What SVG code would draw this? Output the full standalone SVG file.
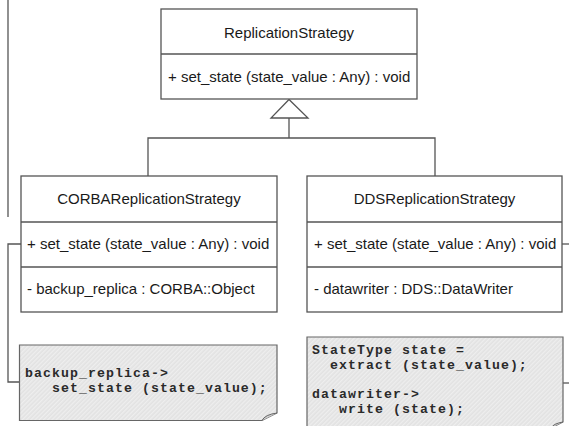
<svg xmlns="http://www.w3.org/2000/svg" width="569" height="426" viewBox="0 0 569 426">
<style>
.box{fill:#fff;stroke:#555;stroke-width:1.3}
.div{stroke:#555;stroke-width:1.3}
.ln{fill:none;stroke:#555;stroke-width:1.3}
.t{font-family:"Liberation Sans",Arial,sans-serif;font-size:15px;fill:#1a1a1a}
.tc{text-anchor:middle}
.note{fill:url(#hatch);stroke:#666;stroke-width:1.2}
.code{font-family:"Liberation Mono","Courier New",monospace;font-size:13.2px;letter-spacing:1.08px;font-weight:bold;fill:#2a2a2a}
</style>
<defs>
<pattern id="hatch" patternUnits="userSpaceOnUse" width="3" height="3" patternTransform="rotate(45)">
<rect width="3" height="3" fill="#e2e2e2"/>
<line x1="0.75" y1="0" x2="0.75" y2="3" stroke="#f3f3f3" stroke-width="1"/>
</pattern>
</defs>
<rect width="569" height="426" fill="#fff"/>
<g id="connectors">
<line class="ln" x1="8" y1="0" x2="8" y2="217"/>
<path class="ln" d="M289,118 V138 M148,176 V138 H435 V176"/>
<polygon points="289,99.5 271,118 308,118" fill="#fff" stroke="#555" stroke-width="1.3"/>
<path class="ln" d="M21,244 H8 V382 H19.5"/>
<path class="ln" d="M562,244 H569"/>
<path class="ln" d="M563,383 H569"/>
</g>
<g id="ReplicationStrategy">
<rect class="box" x="161" y="9" width="256" height="90"/>
<line class="div" x1="161" y1="54" x2="417" y2="54"/>
<text class="t tc" x="289" y="37.5">ReplicationStrategy</text>
<text class="t" x="168" y="82">+ set_state (state_value : Any) : void</text>
</g>
<g id="CORBAReplicationStrategy">
<rect class="box" x="21" y="176" width="256" height="136"/>
<line class="div" x1="21" y1="222" x2="277" y2="222"/>
<line class="div" x1="21" y1="267" x2="277" y2="267"/>
<text class="t tc" x="149" y="204">CORBAReplicationStrategy</text>
<text class="t" x="27" y="249">+ set_state (state_value : Any) : void</text>
<text class="t" x="27" y="294">- backup_replica : CORBA::Object</text>
</g>
<g id="DDSReplicationStrategy">
<rect class="box" x="307" y="176" width="255" height="136"/>
<line class="div" x1="307" y1="222" x2="562" y2="222"/>
<line class="div" x1="307" y1="267" x2="562" y2="267"/>
<text class="t tc" x="434.5" y="204">DDSReplicationStrategy</text>
<text class="t" x="314" y="249">+ set_state (state_value : Any) : void</text>
<text class="t" x="314" y="294">- datawriter : DDS::DataWriter</text>
</g>
<g id="note-corba">
<path class="note" d="M19.5,345 H277 V413 L262,420.5 H19.5 Z"/>
<path d="M262,420.5 Q265,414.5 277,413" fill="#cfcfcf" stroke="#666" stroke-width="1"/>
<text class="code" x="25" y="377">backup_replica-&gt;</text>
<text class="code" x="52" y="392">set_state (state_value);</text>
</g>
<g id="note-dds">
<path class="note" d="M307,337 H563 V422 L551,428 H307 Z"/>
<path d="M551,428 Q553.5,423.5 563,422" fill="#cfcfcf" stroke="#666" stroke-width="1"/>
<text class="code" x="312" y="354">StateType state =</text>
<text class="code" x="330" y="369">extract (state_value);</text>
<text class="code" x="312" y="398">datawriter-&gt;</text>
<text class="code" x="339" y="413">write (state);</text>
</g>
</svg>
